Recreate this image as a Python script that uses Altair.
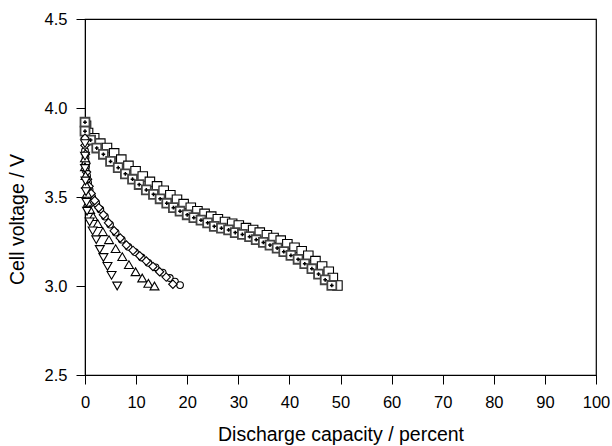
import altair as alt
import pandas as pd

# Square with "+" inside
sqp_x = [0, 0, 1.1, 2.3, 3.6, 5.0, 6.5, 7.9, 9.3, 10.6, 12.0, 13.4, 14.7, 16.0, 17.3, 18.6,
         20.0, 21.3, 22.7, 24.0, 25.3, 26.7, 28.1, 29.4, 30.8, 32.2, 33.5, 34.9, 36.2, 37.6,
         38.9, 40.3, 41.7, 43.0, 44.4, 45.7, 47.0, 48.3]
sqp_v = [3.92, 3.87, 3.82, 3.775, 3.74, 3.70, 3.665, 3.63, 3.60, 3.57, 3.54, 3.515, 3.49, 3.465,
         3.44, 3.42, 3.40, 3.384, 3.37, 3.355, 3.335, 3.325, 3.315, 3.30, 3.29, 3.277, 3.26,
         3.245, 3.23, 3.213, 3.193, 3.172, 3.15, 3.125, 3.097, 3.067, 3.035, 3.003]

# Open squares
sq_x = [0.2, 0.6, 1.8, 3.0, 4.3, 5.7, 7.1, 8.5, 9.9, 11.3, 12.7, 14.1, 15.4, 16.7, 18.0, 19.3,
        20.7, 22.0, 23.4, 24.7, 26.0, 27.4, 28.8, 30.1, 31.5, 32.9, 34.2, 35.6, 36.9, 38.3,
        39.6, 41.0, 42.4, 43.7, 45.1, 46.4, 47.7, 48.5, 49.4]
sq_v = [3.90, 3.86, 3.83, 3.80, 3.775, 3.745, 3.71, 3.675, 3.645, 3.615, 3.585, 3.56, 3.535,
        3.51, 3.485, 3.46, 3.44, 3.42, 3.405, 3.39, 3.375, 3.36, 3.35, 3.34, 3.325, 3.315,
        3.30, 3.285, 3.27, 3.255, 3.235, 3.215, 3.195, 3.17, 3.14, 3.11, 3.08, 3.045, 3.003]

# Circles
ci_x = [0, 0.1, 0.2, 0.4, 0.6, 0.9, 1.4, 2.2, 3.0, 3.9, 4.9, 6.0, 7.2, 8.5, 9.8, 11.1, 12.4,
        13.8, 15.2, 16.6, 17.6, 18.6]
ci_v = [3.76, 3.72, 3.67, 3.62, 3.58, 3.54, 3.50, 3.465, 3.43, 3.39, 3.345, 3.30, 3.26, 3.22,
        3.19, 3.16, 3.13, 3.105, 3.075, 3.045, 3.025, 3.005]

# Diamonds
di_x = [0, 0, 0.1, 0.2, 0.3, 0.5, 0.8, 1.2, 1.9, 2.7, 3.6, 4.6, 5.7, 6.9, 8.1, 9.4, 10.7,
        12.0, 13.3, 14.6, 15.9, 17.2]
di_v = [3.83, 3.79, 3.74, 3.69, 3.64, 3.60, 3.56, 3.52, 3.48, 3.44, 3.40, 3.355, 3.31, 3.27,
        3.23, 3.20, 3.17, 3.14, 3.11, 3.08, 3.05, 3.01]

# Triangles up
tu_x = [0, 0, 0.1, 0.2, 0.4, 0.6, 1.0, 1.6, 2.5, 3.5, 4.7, 6.0, 7.3, 8.6, 9.9, 11.2, 12.4, 13.6]
tu_v = [3.72, 3.67, 3.62, 3.57, 3.52, 3.47, 3.43, 3.39, 3.35, 3.305, 3.26, 3.21, 3.165, 3.12,
        3.08, 3.045, 3.015, 3.0]

# Triangles down
td_x = [0, 0, 0, 0.1, 0.2, 0.3, 0.4, 0.9, 1.5, 2.2, 2.9, 3.6, 4.4, 5.2, 6.3]
td_v = [3.80, 3.73, 3.66, 3.59, 3.53, 3.47, 3.42, 3.36, 3.31, 3.26, 3.205, 3.16, 3.11, 3.06, 3.0]

x_ticks = list(range(0, 101, 10))
y_ticks = [2.5, 3.0, 3.5, 4.0, 4.5]

FONT = "Liberation Sans"

xs = alt.Scale(domain=[0, 100], nice=False, zero=False)
ys = alt.Scale(domain=[2.5, 4.5], nice=False, zero=False)

xenc = alt.X("x:Q", scale=xs, title="Discharge capacity / percent",
             axis=alt.Axis(values=x_ticks, format="d", grid=False, tickSize=9,
                           labelPadding=10, titlePadding=15, domainColor="black",
                           tickColor="black", labelColor="black", titleColor="black",
                           labelFontSize=16.5, titleFontSize=19.5, labelFont=FONT, titleFont=FONT,
                           titleFontWeight="normal", labelFlush=False))
yenc = alt.Y("v:Q", scale=ys, title="Cell voltage / V",
             axis=alt.Axis(values=y_ticks, format=".1f", grid=False, tickSize=9,
                           labelPadding=9, titlePadding=17, domainColor="black",
                           tickColor="black", labelColor="black", titleColor="black",
                           labelFontSize=16.5, titleFontSize=19.5, labelFont=FONT, titleFont=FONT,
                           titleFontWeight="normal", labelFlush=False, titleY=200))


def layer(xv, vv, shape, size, stroke="black", sw=1.1, filled=False, fill=None):
    df = pd.DataFrame({"x": xv, "v": vv})
    kw = dict(shape=shape, size=size, strokeWidth=sw, filled=filled, opacity=1)
    if filled:
        kw["color"] = fill
    else:
        kw["stroke"] = stroke
        kw["fill"] = "white"
        kw["fillOpacity"] = 1
    return alt.Chart(df).mark_point(**kw).encode(x=xenc, y=yenc)


chart = alt.layer(
    layer(sq_x, sq_v, "square", 90),
    layer(sqp_x, sqp_v, "square", 80, stroke="#444", sw=1.8),
    layer(sqp_x, sqp_v, "cross", 14, filled=True, fill="black"),
    layer(ci_x, ci_v, "circle", 45),
    layer(di_x, di_v, "diamond", 70),
    layer(tu_x, tu_v, "triangle-up", 80),
    layer(td_x, td_v, "triangle-down", 80),
).properties(
    width=511, height=356,
    autosize=alt.AutoSizeParams(type="none"),
    padding={"left": 85, "top": 19, "right": 16, "bottom": 71},
    background="white",
).configure_view(stroke="black", strokeWidth=1.2)

chart.save("out.html", embed_options={"renderer": "svg", "actions": False})
